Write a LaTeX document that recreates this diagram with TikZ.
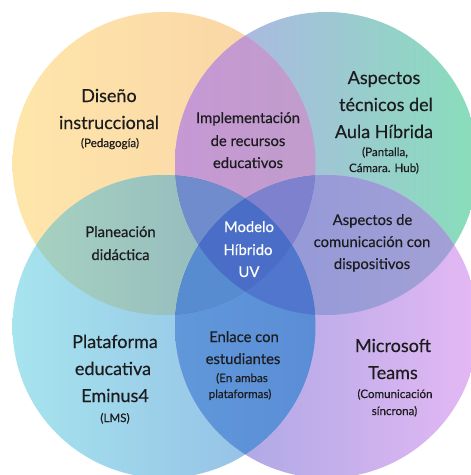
\documentclass[tikz,border=0pt]{standalone}
\usepackage{fontspec}
\setmainfont{Lato}[FakeBold=0.35]
\definecolor{txt}{RGB}{28,28,30}
\definecolor{tlL}{RGB}{254,230,170}\definecolor{tlR}{RGB}{250,210,166}
\definecolor{trL}{RGB}{180,176,236}\definecolor{trR}{RGB}{136,222,186}
\definecolor{blL}{RGB}{166,228,238}\definecolor{blR}{RGB}{145,185,228}
\definecolor{brL}{RGB}{160,165,225}\definecolor{brR}{RGB}{228,184,244}
\definecolor{ptL}{RGB}{198,152,212}\definecolor{ptR}{RGB}{186,162,194}
\definecolor{plL}{RGB}{168,212,192}\definecolor{plR}{RGB}{140,175,190}
\definecolor{prL}{RGB}{140,148,216}\definecolor{prR}{RGB}{164,162,214}
\definecolor{pbL}{RGB}{96,152,218}\definecolor{pbR}{RGB}{84,128,210}
\definecolor{tUL}{RGB}{112,140,204}
\definecolor{tUR}{RGB}{126,130,206}
\definecolor{tLL}{RGB}{88,140,208}
\definecolor{tLR}{RGB}{80,118,206}
\definecolor{quad}{RGB}{74,110,200}
\def\R{151.5pt}
\tikzset{
  lbl/.style={anchor=base, inner sep=0pt, text=txt},
  big/.style={lbl, font=\fontsize{18}{21}\selectfont},
  med/.style={lbl, font=\fontsize{14.8}{17}\selectfont},
  sml/.style={lbl, font=\fontsize{11.6}{13}\selectfont},
  wht/.style={anchor=base, inner sep=0pt, text=white, font=\fontsize{14.8}{17}\selectfont},
}
\begin{document}
\begin{tikzpicture}[x=1pt,y=-1pt]
\useasboundingbox (0,0) rectangle (471,475);
\fill[white] (0,0) rectangle (471,475);
\clip (0,0) rectangle (471,475);
\coordinate (TL) at (164,163.5);
\coordinate (TR) at (326.5,163.5);
\coordinate (BL) at (164,326.5);
\coordinate (BR) at (326.5,326.5);
% single circles
\shade[left color=tlL, right color=tlR] (TL) circle[radius=\R];
\shade[left color=trL, right color=trR] (TR) circle[radius=\R];
\shade[left color=blL, right color=blR] (BL) circle[radius=\R];
\shade[left color=brL, right color=brR] (BR) circle[radius=\R];
% pairs
\begin{scope}\clip (TL) circle[radius=\R];
  \shade[left color=ptL, right color=ptR] (TR) circle[radius=\R];\end{scope}
\begin{scope}\clip (TL) circle[radius=\R];
  \shade[left color=plL, right color=plR] (BL) circle[radius=\R];\end{scope}
\begin{scope}\clip (TR) circle[radius=\R];
  \shade[left color=prL, right color=prR] (BR) circle[radius=\R];\end{scope}
\begin{scope}\clip (BL) circle[radius=\R];
  \shade[left color=pbL, right color=pbR] (BR) circle[radius=\R];\end{scope}
\begin{scope}\clip (TL) circle[radius=\R];
  \fill[quad] (BR) circle[radius=\R];\end{scope}
\begin{scope}\clip (TR) circle[radius=\R];
  \fill[quad] (BL) circle[radius=\R];\end{scope}
% triples
\begin{scope}\clip (TL) circle[radius=\R];\clip (TR) circle[radius=\R];
  \fill[tUL] (BL) circle[radius=\R];\end{scope}
\begin{scope}\clip (TL) circle[radius=\R];\clip (TR) circle[radius=\R];
  \fill[tUR] (BR) circle[radius=\R];\end{scope}
\begin{scope}\clip (TL) circle[radius=\R];\clip (BL) circle[radius=\R];
  \fill[tLL] (BR) circle[radius=\R];\end{scope}
\begin{scope}\clip (TR) circle[radius=\R];\clip (BL) circle[radius=\R];
  \fill[tLR] (BR) circle[radius=\R];\end{scope}
% quadruple
\begin{scope}\clip (TL) circle[radius=\R];\clip (TR) circle[radius=\R];\clip (BL) circle[radius=\R];
  \fill[quad] (BR) circle[radius=\R];\end{scope}
% texts
\node[big] (d1) at (109,102) {Diseño};
\node[big] (d2) at (109,129) {instruccional};
\node[sml] (d3) at (110,147) {(Pedagogía)};
\node[med] (i1) at (248,123) {Implementación};
\node[med] (i2) at (248,146) {de recursos};
\node[med] (i3) at (248,168) {educativos};
\node[big] (a1) at (384,84) {Aspectos};
\node[big] (a2) at (386,111) {técnicos del};
\node[big] (a3) at (384,138) {Aula Híbrida};
\node[sml] (a4) at (385,156) {(Pantalla,};
\node[sml] (a5) at (384,172) {Cámara. Hub)};
\node[med] (p1) at (120.5,237) {Planeación};
\node[med] (p2) at (120.5,260) {didáctica};
\node[wht] (m1) at (249,232) {Modelo};
\node[wht] (m2) at (248,255) {Híbrido};
\node[wht] (m3) at (249,277) {UV};
\node[med] (c1) at (372.5,225) {Aspectos de};
\node[med] (c2) at (372,247) {comunicación con};
\node[med] (c3) at (372,269) {dispositivos};
\node[big] (e1) at (115,348) {Plataforma};
\node[big] (e2) at (113,375) {educativa};
\node[big] (e3) at (115,402) {Eminus4};
\node[sml] (e4) at (115,422) {(LMS)};
\node[med] (s1) at (244,342) {Enlace con};
\node[med] (s2) at (243,364) {estudiantes};
\node[sml] (s3) at (242,382) {(En ambas};
\node[sml] (s4) at (240,398) {plataformas)};
\node[big] (t1) at (393,352) {Microsoft};
\node[big] (t2) at (393,379) {Teams};
\node[sml] (t3) at (395,398) {(Comunicación};
\node[sml] (t4) at (394.5,415) {síncrona)};
\end{tikzpicture}
\end{document}
